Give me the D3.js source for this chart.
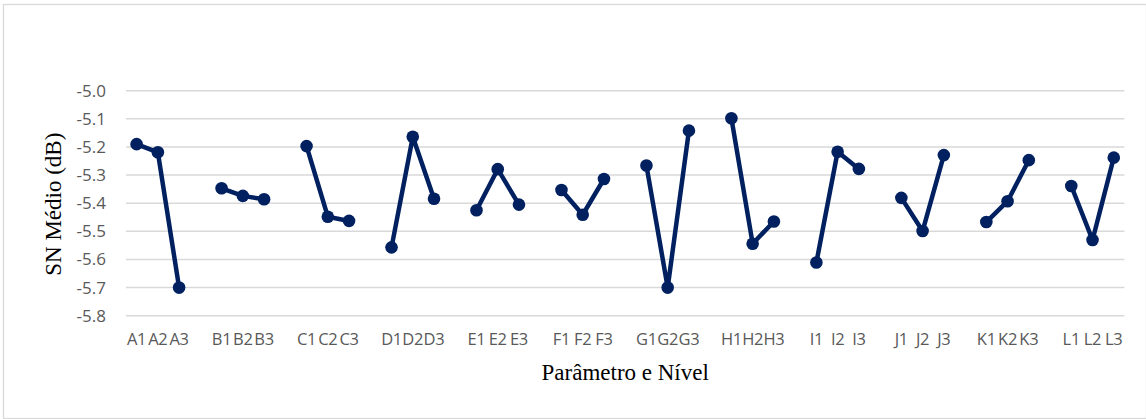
<!DOCTYPE html>
<html>
<head>
<meta charset="utf-8">
<script src="https://cdn.jsdelivr.net/npm/d3@7"></script>
<style>
  html, body { margin: 0; padding: 0; background: #fff; }
  svg { display: block; }
</style>
</head>
<body>
<svg id="chart" width="1146" height="419"></svg>
<script>
// Parameters and their levels
const parameters = ["A", "B", "C", "D", "E", "F", "G", "H", "I", "J", "K", "L"];
const levels = ["1", "2", "3"];

// Mean S/N ratio (dB) for each level of each parameter
const snA = [-5.190, -5.219, -5.700];
const snB = [-5.347, -5.374, -5.386];
const snC = [-5.197, -5.448, -5.463];
const snD = [-5.557, -5.164, -5.384];
const snE = [-5.425, -5.279, -5.405];
const snF = [-5.353, -5.441, -5.314];
const snG = [-5.266, -5.700, -5.142];
const snH = [-5.098, -5.544, -5.465];
const snI = [-5.611, -5.217, -5.278];
const snJ = [-5.381, -5.499, -5.229];
const snK = [-5.467, -5.393, -5.247];
const snL = [-5.339, -5.531, -5.238];
const seriesValues = [snA, snB, snC, snD, snE, snF, snG, snH, snI, snJ, snK, snL];

// Y axis ticks
const yTicks = [-5.0, -5.1, -5.2, -5.3, -5.4, -5.5, -5.6, -5.7, -5.8];

const yTitle = "SN Médio (dB)";
const xTitle = "Parâmetro e Nível";

const svg = d3.select("#chart");
const W = 1146, H = 419;

// Outer chart frame
svg.append("rect")
  .attr("x", 3.5).attr("y", 4.5)
  .attr("width", W - 3).attr("height", H - 5)
  .attr("fill", "#fff")
  .attr("stroke", "#d9d9d9")
  .attr("stroke-width", 1.3);

const plot = { left: 126, right: 1124.4, top: 90.7, bottom: 315.7 };

// Each parameter takes 3 level slots plus one empty slot as a separator
const slotsPerGroup = levels.length + 1;
const nSlots = parameters.length * slotsPerGroup - 1;

const x = d3.scaleLinear()
  .domain([-0.5, nSlots - 0.5])
  .range([plot.left, plot.right]);

const y = d3.scaleLinear()
  .domain([-5.8, -5.0])
  .range([plot.bottom, plot.top]);

// Horizontal gridlines
svg.append("g")
  .selectAll("line")
  .data(yTicks)
  .join("line")
  .attr("x1", plot.left).attr("x2", plot.right)
  .attr("y1", d => y(d)).attr("y2", d => y(d))
  .attr("stroke", "#d9d9d9")
  .attr("stroke-width", 1.5);

// Y axis tick labels
const yAxis = d3.axisLeft(y)
  .tickValues(yTicks)
  .tickFormat(d3.format(".1f"))
  .tickSize(0)
  .tickPadding(0);

const yAxisG = svg.append("g")
  .attr("transform", `translate(${plot.left - 20},0)`)
  .call(yAxis);
yAxisG.select(".domain").remove();
yAxisG.selectAll("text")
  .attr("font-family", "'Open Sans', sans-serif")
  .attr("font-size", 17)
  .attr("fill", "#595959")
  .text(d => d3.format(".1f")(d).replace("−", "-"));

// Flattened point data
const points = [];
parameters.forEach((p, gi) => {
  levels.forEach((lv, li) => {
    points.push({
      group: gi,
      slot: gi * slotsPerGroup + li,
      label: p + lv,
      value: seriesValues[gi][li]
    });
  });
});

// X axis category labels
svg.append("g")
  .selectAll("text")
  .data(points)
  .join("text")
  .attr("x", d => x(d.slot))
  .attr("y", 344.5)
  .attr("text-anchor", "middle")
  .attr("font-family", "'Open Sans', sans-serif")
  .attr("font-size", 16.5)
  .attr("letter-spacing", -0.3)
  .attr("fill", "#595959")
  .text(d => d.label);

const color = "#002060";

// One line per parameter
const line = d3.line()
  .x(d => x(d.slot))
  .y(d => y(d.value));

svg.append("g")
  .selectAll("path")
  .data(d3.groups(points, d => d.group))
  .join("path")
  .attr("d", ([, pts]) => line(pts))
  .attr("fill", "none")
  .attr("stroke", color)
  .attr("stroke-width", 4.5)
  .attr("stroke-linejoin", "round");

// Markers
svg.append("g")
  .selectAll("circle")
  .data(points)
  .join("circle")
  .attr("cx", d => x(d.slot))
  .attr("cy", d => y(d.value))
  .attr("r", 6.3)
  .attr("fill", color);

// Axis titles
svg.append("text")
  .attr("transform", `translate(61,${(plot.top + plot.bottom) / 2 + 1}) rotate(-90)`)
  .attr("text-anchor", "middle")
  .attr("font-family", "'Liberation Serif', 'Times New Roman', serif")
  .attr("font-size", 23)
  .attr("fill", "#000")
  .text(yTitle);

svg.append("text")
  .attr("x", (plot.left + plot.right) / 2)
  .attr("y", 380)
  .attr("text-anchor", "middle")
  .attr("font-family", "'Liberation Serif', 'Times New Roman', serif")
  .attr("font-size", 23)
  .attr("fill", "#000")
  .text(xTitle);
</script>
</body>
</html>
